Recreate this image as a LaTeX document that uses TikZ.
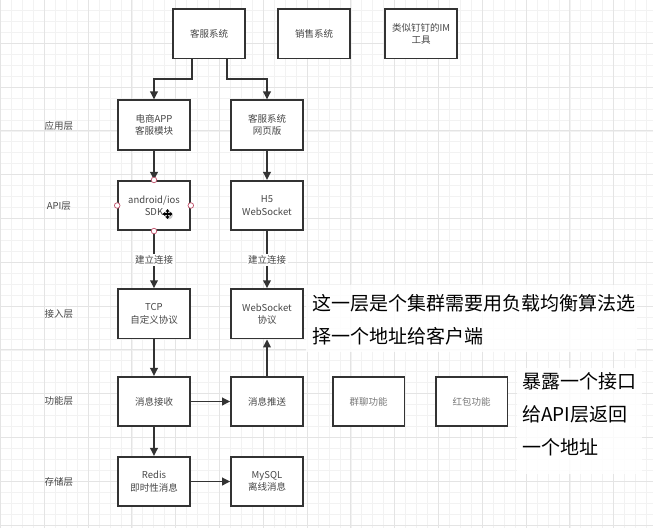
\documentclass[tikz,border=0pt]{standalone}
\usepackage{fontspec}
\setmainfont{Noto Sans CJK SC}
\usetikzlibrary{arrows.meta,calc}
\definecolor{boxline}{HTML}{333333}
\definecolor{boxtext}{HTML}{474747}
\definecolor{lighttext}{HTML}{7A7A7A}
\definecolor{gridminor}{HTML}{F2F2F2}
\definecolor{gridmajor}{HTML}{E4E4E4}
\definecolor{handle}{HTML}{C0506A}
\tikzset{
  box/.style={draw=boxline, line width=1.8pt, fill=white, minimum width=71.8pt, minimum height=49.3pt,
    inner sep=0pt, align=center, text=boxtext, font=\fontsize{9.5}{12.3}\selectfont},
  layerlabel/.style={text=boxtext, font=\fontsize{9.5}{12}\selectfont, inner sep=0pt},
  conn/.style={draw=boxline, line width=1.9pt, -{Triangle[length=8pt,width=7.5pt]}},
  edgelabel/.style={fill=white, text=boxtext, font=\fontsize{9.5}{12}\selectfont, inner sep=1.5pt},
  note/.style={anchor=west, inner sep=0pt, text=black, font=\fontsize{19}{24}\selectfont},
  grip/.style={circle, draw=handle, fill=white, line width=0.7pt, minimum size=5.6pt, inner sep=0pt}
}
\begin{document}
\begin{tikzpicture}[x=1pt,y=-1pt]
\useasboundingbox (0,0) rectangle (653,528);
\fill[white] (0,0) rectangle (653,528);
% grid
\foreach \i in {0,...,59} {
  \pgfmathsetmacro{\gx}{0.5+10.95*\i}
  \draw[gridminor, line width=0.8pt] (\gx,0) -- (\gx,528);
}
\foreach \i in {0,...,48} {
  \pgfmathsetmacro{\gy}{-0.5+10.95*\i}
  \draw[gridminor, line width=0.8pt] (0,\gy) -- (653,\gy);
}
\foreach \i in {0,...,15} {
  \pgfmathsetmacro{\gx}{0.5+43.8*\i}
  \draw[gridmajor, line width=1pt] (\gx,0) -- (\gx,528);
}
\foreach \i in {0,...,12} {
  \pgfmathsetmacro{\gy}{-0.5+43.8*\i}
  \draw[gridmajor, line width=1pt] (0,\gy) -- (653,\gy);
}

% top row
\node[box] (ks) at (209,33.8) {客服系统};
\node[box] (xs) at (314.2,33.8) {销售系统};
\node[box] (im) at (421,33.8) {类似钉钉的IM\\工具};

% layer labels
\node[layerlabel] (l1) at (58.8,126) {应用层};
\node[layerlabel] (l2) at (58.8,206) {API层};
\node[layerlabel] (l3) at (58.8,314) {接入层};
\node[layerlabel] (l4) at (58.8,400.5) {功能层};
\node[layerlabel] (l5) at (58.8,481.5) {存储层};

% app layer
\node[box] (app) at (154,125) {电商APP\\客服模块};
\node[box] (web) at (267,125) {客服系统\\网页版};
% api layer
\node[box] (sdk) at (154,205.5) {android/ios\\SDK};
\node[box] (h5) at (267,205.5) {H5\\WebSocket};
% access layer
\node[box] (tcp) at (154,313.8) {TCP\\自定义协议};
\node[box] (wsp) at (267,313.8) {WebSocket\\协议};
% function layer
\node[box] (recv) at (154,401.5) {消息接收};
\node[box] (push) at (267,401.5) {消息推送};
\node[box, text=lighttext] (grp) at (368.5,401.5) {群聊功能};
\node[box, text=lighttext] (red) at (471.5,401.5) {红包功能};
% storage layer
\node[box] (redis) at (154,481.5) {Redis\\即时性消息};
\node[box] (mysql) at (267,481.5) {MySQL\\离线消息};

% connectors
\draw[conn] ([xshift=-16.7pt]ks.south) -- ++(0,20) -| (app.north);
\draw[conn] ([xshift=18.3pt]ks.south) -- ++(0,20) -| (web.north);
\draw[conn] (app) -- (sdk);
\draw[conn] (web) -- (h5);
\draw[conn] (sdk) -- node[edgelabel] (lb1) {建立连接} (tcp);
\draw[conn] (h5) -- node[edgelabel] (lb2) {建立连接} (wsp);
\draw[conn] (tcp) -- (recv);
\draw[conn] (push) -- (wsp);
\draw[conn] (recv) -- (push);
\draw[conn] (recv) -- (redis);
\draw[conn] (redis) -- (mysql);

% selection handles on SDK box
\node[grip] (g1) at (sdk.north) {};
\node[grip] (g2) at (sdk.south) {};
\node[grip] (g3) at (sdk.west) {};
\node[grip] (g4) at (sdk.east) {};

% move cursor
\coordinate (cur) at (167.5,214);
\fill[black!35, opacity=0.6] ($(cur)+(1.2,1.2)$) circle (4.2pt);
\draw[black, line width=1.1pt, {Triangle[length=2.6pt,width=3.8pt]}-{Triangle[length=2.6pt,width=3.8pt]}] ($(cur)+(-5,0)$) -- ($(cur)+(5,0)$);
\draw[black, line width=1.1pt, {Triangle[length=2.6pt,width=3.8pt]}-{Triangle[length=2.6pt,width=3.8pt]}] ($(cur)+(0,-5)$) -- ($(cur)+(0,5)$);

% annotations
\fill[white, opacity=0.85] (306,285) rectangle (637,352);
\node[note] (n1) at (312,303) {这一层是个集群需要用负载均衡算法选};
\node[note] (n2) at (312,336.5) {择一个地址给客户端};
\fill[white, opacity=0.85] (517,368) rectangle (642,474);
\node[note] (n3) at (522,381.7) {暴露一个接口};
\node[note] (n4) at (522,414.5) {给API层返回};
\node[note] (n5) at (522,447.3) {一个地址};
\end{tikzpicture}
\end{document}
